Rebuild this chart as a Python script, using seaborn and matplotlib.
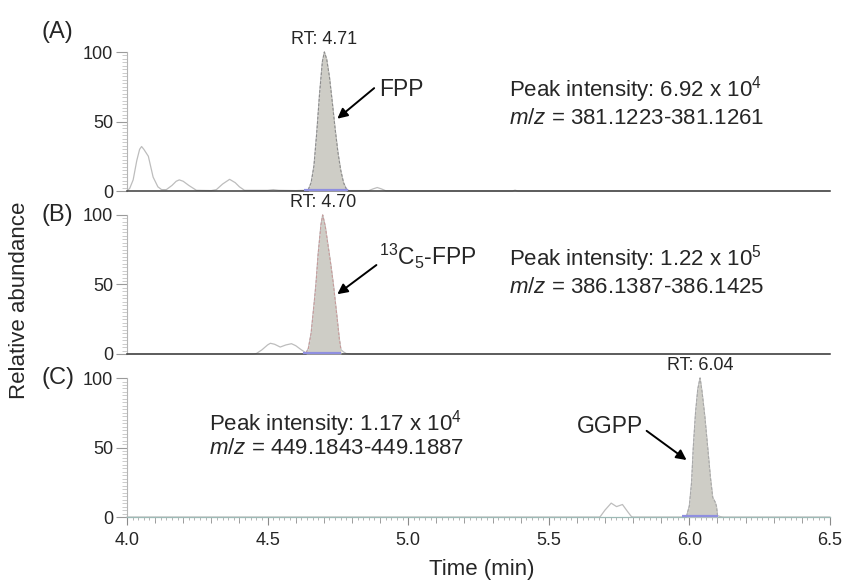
import matplotlib
matplotlib.use("Agg")
import matplotlib.pyplot as plt
from matplotlib.ticker import MultipleLocator, FixedLocator, NullFormatter, FormatStrFormatter
import numpy as np
import pandas as pd
import seaborn as sns

# ---- chromatogram traces (time in min, relative abundance in %) ----
time_a = [4.00, 4.010, 4.022, 4.035, 4.045, 4.052, 4.060, 4.076, 4.093, 4.110, 4.123,
          4.140, 4.160, 4.175, 4.186, 4.200, 4.220, 4.247, 4.300, 4.318, 4.340, 4.365,
          4.385, 4.400, 4.418, 4.500, 4.520, 4.540, 4.600, 4.630, 4.645, 4.655, 4.665,
          4.675, 4.685, 4.695, 4.702, 4.710, 4.720, 4.730, 4.740, 4.750, 4.760, 4.770,
          4.780, 4.790, 4.860, 4.875, 4.890, 4.905, 4.920, 5.000, 5.370, 5.380, 5.390,
          5.500, 6.000, 6.500]
abund_a = [0.0, 2.0, 8.0, 22.0, 30.0, 32.0, 30.0, 25.0, 10.0, 3.0, 1.0,
           1.0, 4.0, 7.0, 8.0, 7.0, 4.0, 0.5, 0.3, 1.0, 5.0, 8.4,
           6.0, 3.0, 0.5, 0.5, 1.0, 0.5, 0.3, 0.5, 1.0, 6.0, 18.0,
           42.0, 70.0, 93.0, 100.0, 95.0, 82.0, 64.0, 45.0, 28.0, 15.0, 6.0,
           1.5, 0.3, 0.3, 1.5, 2.5, 1.5, 0.2, 0.0, 0.0, 0.6, 0.0,
           0.0, 0.0, 0.0]

time_b = [4.00, 4.450, 4.460, 4.480, 4.500, 4.510, 4.525, 4.545, 4.565, 4.585, 4.600,
          4.620, 4.637, 4.645, 4.655, 4.665, 4.672, 4.680, 4.690, 4.696, 4.705, 4.715,
          4.725, 4.734, 4.745, 4.755, 4.761, 4.770, 4.780, 4.800, 5.500, 6.500]
abund_b = [0.0, 0.0, 0.3, 3.0, 6.5, 7.7, 7.0, 5.0, 6.5, 7.4, 6.0,
           3.0, 0.8, 4.0, 15.0, 35.0, 50.0, 72.0, 93.0, 100.0, 92.0, 78.0,
           64.0, 50.0, 30.0, 11.0, 3.0, 1.5, 0.3, 0.0, 0.0, 0.0]

time_c = [4.00, 5.000, 5.680, 5.683, 5.700, 5.722, 5.741, 5.762, 5.780, 5.794, 5.800,
          5.980, 5.990, 6.000, 6.008, 6.014, 6.022, 6.030, 6.038, 6.045, 6.055, 6.065,
          6.075, 6.083, 6.091, 6.096, 6.100, 6.110, 6.120, 6.300, 6.500]
abund_c = [0.0, 0.0, 0.0, 0.3, 5.0, 10.0, 7.5, 9.0, 4.0, 0.3, 0.0,
           0.0, 0.5, 8.0, 25.0, 50.0, 75.0, 92.0, 100.0, 90.0, 72.0, 50.0,
           28.0, 14.0, 11.0, 8.0, 1.0, 0.3, 0.0, 0.0, 0.0]

# integrated peak windows (min)
window_a = (4.640, 4.785)
window_b = (4.635, 4.762)
window_c = (5.985, 6.102)

# apex retention times
rt_a, rt_b, rt_c = 4.71, 4.70, 6.04
rt_pos_a, rt_pos_b, rt_pos_c = 4.702, 4.696, 6.038

panel_tags = ["(A)", "(B)", "(C)"]
compounds = ["FPP", r"$^{13}$C$_5$-FPP", "GGPP"]
intensity_labels = [r"Peak intensity: 6.92 x 10$^4$",
                    r"Peak intensity: 1.22 x 10$^5$",
                    r"Peak intensity: 1.17 x 10$^4$"]
mz_labels = [r"$\mathit{m/z}$ = 381.1223-381.1261",
             r"$\mathit{m/z}$ = 386.1387-386.1425",
             r"$\mathit{m/z}$ = 449.1843-449.1887"]

sns.set_style("white")
plt.rcParams["font.family"] = ["Liberation Sans", "DejaVu Sans"]
plt.rcParams["mathtext.fontset"] = "custom"
plt.rcParams["mathtext.rm"] = "Liberation Sans"
plt.rcParams["mathtext.it"] = "Liberation Sans:italic"
plt.rcParams["mathtext.bf"] = "Liberation Sans:bold"

fig = plt.figure(figsize=(8.47, 5.85), dpi=100)
left, width, height = 0.1499, 0.8300, 0.2376
bottoms = [0.6735, 0.3949, 0.1162]
axes = [fig.add_axes([left, b, width, height]) for b in bottoms]

traces = [(time_a, abund_a, window_a), (time_b, abund_b, window_b), (time_c, abund_c, window_c)]
edge_colors = ["#8c8c8c", "#c79a9a", "#a8a8a8"]
fill_color = "#cecdc6"
trace_color = "#bdbdbd"

for i, (ax, (t, y, win)) in enumerate(zip(axes, traces)):
    df = pd.DataFrame({"time": t, "abundance": y})
    sns.lineplot(data=df, x="time", y="abundance", ax=ax, color=trace_color,
                 linewidth=0.9, estimator=None, sort=False, clip_on=False)
    pk = df[(df["time"] >= win[0]) & (df["time"] <= win[1])]
    ax.fill_between(pk["time"], 0, pk["abundance"], color=fill_color,
                    linewidth=0, zorder=3, clip_on=False)
    ax.plot(pk["time"], pk["abundance"], color=edge_colors[i], linewidth=0.8,
            linestyle=(0, (2.5, 1.5)), zorder=4, clip_on=False)
    ax.plot([win[0] - 0.01, win[1]], [0.6, 0.6], color="#8f8fe0", linewidth=1.6,
            zorder=5, clip_on=False, solid_capstyle="butt")

    ax.set_xlim(4.0, 6.5)
    ax.set_ylim(0, 100)
    ax.set_xlabel("")
    ax.set_ylabel("")
    for s in ("top", "right"):
        ax.spines[s].set_visible(False)
    ax.spines["left"].set_color("#b5b5b5")
    ax.spines["left"].set_linewidth(0.8)

    ax.yaxis.set_major_locator(FixedLocator([0, 50, 100]))
    ax.yaxis.set_minor_locator(MultipleLocator(2.5))
    ax.tick_params(axis="y", which="major", direction="out", length=8, width=0.8,
                   color="#9a9a9a", labelsize=13, pad=2, left=True)
    ax.tick_params(axis="y", which="minor", direction="out", length=3.5, width=0.6,
                   color="#c4c4c4", left=True)

    tag_y = 1.144 if i == 0 else 1.0
    ax.text(-0.121, tag_y, panel_tags[i], transform=ax.transAxes, fontsize=17,
            ha="left", va="center")

    if i < 2:
        ax.spines["bottom"].set_color("#3c3c3c")
        ax.spines["bottom"].set_linewidth(1.1)
        ax.tick_params(axis="x", which="both", bottom=False, labelbottom=False)
    else:
        ax.spines["bottom"].set_color("#9dbab6")
        ax.spines["bottom"].set_linewidth(0.9)
        ax.xaxis.set_major_locator(MultipleLocator(0.5))
        ax.xaxis.set_minor_locator(MultipleLocator(0.02))
        ax.xaxis.set_major_formatter(FormatStrFormatter("%.1f"))
        ax.tick_params(axis="x", which="major", direction="out", length=6, width=0.8,
                       color="#8a8a8a", labelsize=13, pad=5, bottom=True)
        ax.tick_params(axis="x", which="minor", direction="out", length=2.5, width=0.6,
                       color="#a8a8a8", bottom=True)
        sec = ax.secondary_xaxis("bottom")
        sec.set_xticks(np.arange(4.0, 6.51, 0.1))
        sec.xaxis.set_major_formatter(NullFormatter())
        sec.tick_params(axis="x", direction="out", length=4, width=0.7, color="#9a9a9a")
        sec.spines["bottom"].set_visible(False)

# retention time labels
for ax, rt, pos in zip(axes, [rt_a, rt_b, rt_c], [rt_pos_a, rt_pos_b, rt_pos_c]):
    ax.annotate(f"RT: {rt:.2f}", xy=(pos, 100), xytext=(0, 3), textcoords="offset points",
                ha="center", va="bottom", fontsize=13)

# compound labels with arrows
arrow_kw = dict(arrowstyle="-|>,head_length=0.6,head_width=0.3", color="black", lw=1.4,
                shrinkA=0, shrinkB=0)
axes[0].annotate("", xy=(4.748, 52), xytext=(4.879, 74), arrowprops=arrow_kw)
axes[0].text(4.897, 73, compounds[0], fontsize=16.5, ha="left", va="center")
axes[1].annotate("", xy=(4.748, 43), xytext=(4.887, 64), arrowprops=arrow_kw)
axes[1].text(4.897, 70, compounds[1], fontsize=16.5, ha="left", va="center")
axes[2].annotate("", xy=(5.99, 41), xytext=(5.848, 62), arrowprops=arrow_kw)
axes[2].text(5.6, 65, compounds[2], fontsize=16.5, ha="left", va="center")

# acquisition details
text_pos = [(5.358, 73.0, 52.5), (5.358, 69.0, 48.0), (4.291, 67.0, 49.5)]
for ax, (tx, y1, y2), l1, l2 in zip(axes, text_pos, intensity_labels, mz_labels):
    ax.text(tx, y1, l1, fontsize=16, ha="left", va="center")
    ax.text(tx, y2, l2, fontsize=16, ha="left", va="center")

fig.text(0.023, 0.487, "Relative abundance", rotation=90, ha="center", va="center",
         fontsize=16)
fig.text(0.569, 0.026, "Time (min)", ha="center", va="center", fontsize=16)

fig.savefig("out.png", dpi=100)
